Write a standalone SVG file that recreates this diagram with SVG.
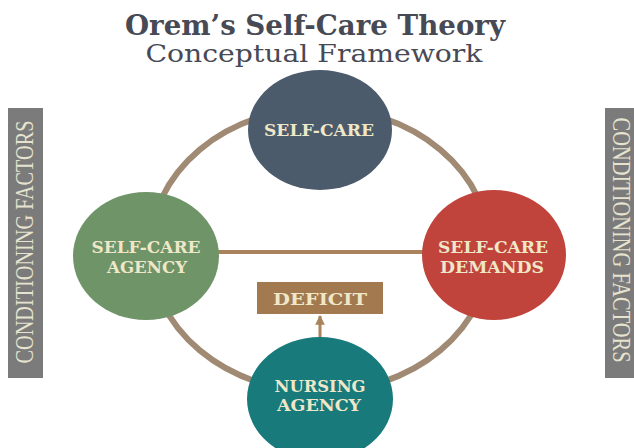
<svg xmlns="http://www.w3.org/2000/svg" width="634" height="448" viewBox="0 0 634 448">
  <defs>
    <style>
      .title { font-family: "DejaVu Serif", "Liberation Serif", serif; fill: #474a55; }
      .side { fill: #7b7b7b; }
      .side-text { font-family: "Liberation Serif", "Times New Roman", serif; font-size: 25px; fill: #e6e3cf; }
      .label { font-family: "DejaVu Serif", "Liberation Serif", serif; font-weight: bold; font-size: 16px; fill: #efe7c8; text-anchor: middle; }
      .ring { fill: none; stroke: #a08a73; stroke-width: 6; }
      .bar { stroke: #a9835b; stroke-width: 4; }
      .arrow { stroke: #a9835b; stroke-width: 3; }
    </style>
    <marker id="arrowhead" viewBox="0 0 10 10" refX="9" refY="5" markerWidth="3.2" markerHeight="3.2" orient="auto" markerUnits="strokeWidth">
      <path d="M0,0 L10,5 L0,10 z" fill="#a9835b"/>
    </marker>
  </defs>

  <rect width="634" height="448" fill="#ffffff"/>

  <!-- heading -->
  <g id="heading">
    <text class="title" x="315" y="35" font-size="28" font-weight="bold" text-anchor="middle" textLength="380" lengthAdjust="spacingAndGlyphs">Orem’s Self-Care Theory</text>
    <text class="title" x="314" y="62" font-size="24" text-anchor="middle" textLength="337" lengthAdjust="spacingAndGlyphs">Conceptual Framework</text>
  </g>

  <!-- side bars -->
  <g id="conditioning-left">
    <rect class="side" x="8" y="108" width="35" height="270"/>
    <text class="side-text" transform="translate(33,242) rotate(-90)" text-anchor="middle" textLength="243" lengthAdjust="spacingAndGlyphs">CONDITIONING FACTORS</text>
  </g>
  <g id="conditioning-right">
    <rect class="side" x="605" y="108" width="29" height="270"/>
    <text class="side-text" transform="translate(613,240) rotate(90)" text-anchor="middle" textLength="245" lengthAdjust="spacingAndGlyphs">CONDITIONING FACTORS</text>
  </g>

  <!-- connectors -->
  <g id="connectors">
    <ellipse class="ring" cx="320" cy="250" rx="170" ry="142"/>
    <line class="bar" x1="215" y1="252" x2="425" y2="252"/>
    <line class="arrow" x1="320" y1="338" x2="320" y2="316" marker-end="url(#arrowhead)"/>
  </g>

  <!-- nodes -->
  <g id="self-care">
    <ellipse cx="320" cy="130" rx="72" ry="60" fill="#4c5b6b"/>
    <text class="label" x="319" y="136" textLength="110" lengthAdjust="spacingAndGlyphs">SELF-CARE</text>
  </g>
  <g id="self-care-agency">
    <ellipse cx="146" cy="256" rx="73" ry="64" fill="#6f9468"/>
    <text class="label" x="146" y="253" textLength="109" lengthAdjust="spacingAndGlyphs">SELF-CARE</text>
    <text class="label" x="147" y="273" textLength="80" lengthAdjust="spacingAndGlyphs">AGENCY</text>
  </g>
  <g id="self-care-demands">
    <ellipse cx="494" cy="255" rx="72" ry="65" fill="#c0443c"/>
    <text class="label" x="493" y="253" textLength="110" lengthAdjust="spacingAndGlyphs">SELF-CARE</text>
    <text class="label" x="492" y="273" textLength="104" lengthAdjust="spacingAndGlyphs">DEMANDS</text>
  </g>
  <g id="nursing-agency">
    <ellipse cx="320" cy="399" rx="73" ry="62" fill="#187a7b"/>
    <text class="label" x="320" y="392" textLength="91" lengthAdjust="spacingAndGlyphs">NURSING</text>
    <text class="label" x="319" y="411" textLength="84" lengthAdjust="spacingAndGlyphs">AGENCY</text>
  </g>
  <g id="deficit">
    <rect x="257" y="282" width="126" height="32" fill="#a37a4f"/>
    <text class="label" x="320" y="305" font-size="20" textLength="94" lengthAdjust="spacingAndGlyphs">DEFICIT</text>
  </g>
</svg>
